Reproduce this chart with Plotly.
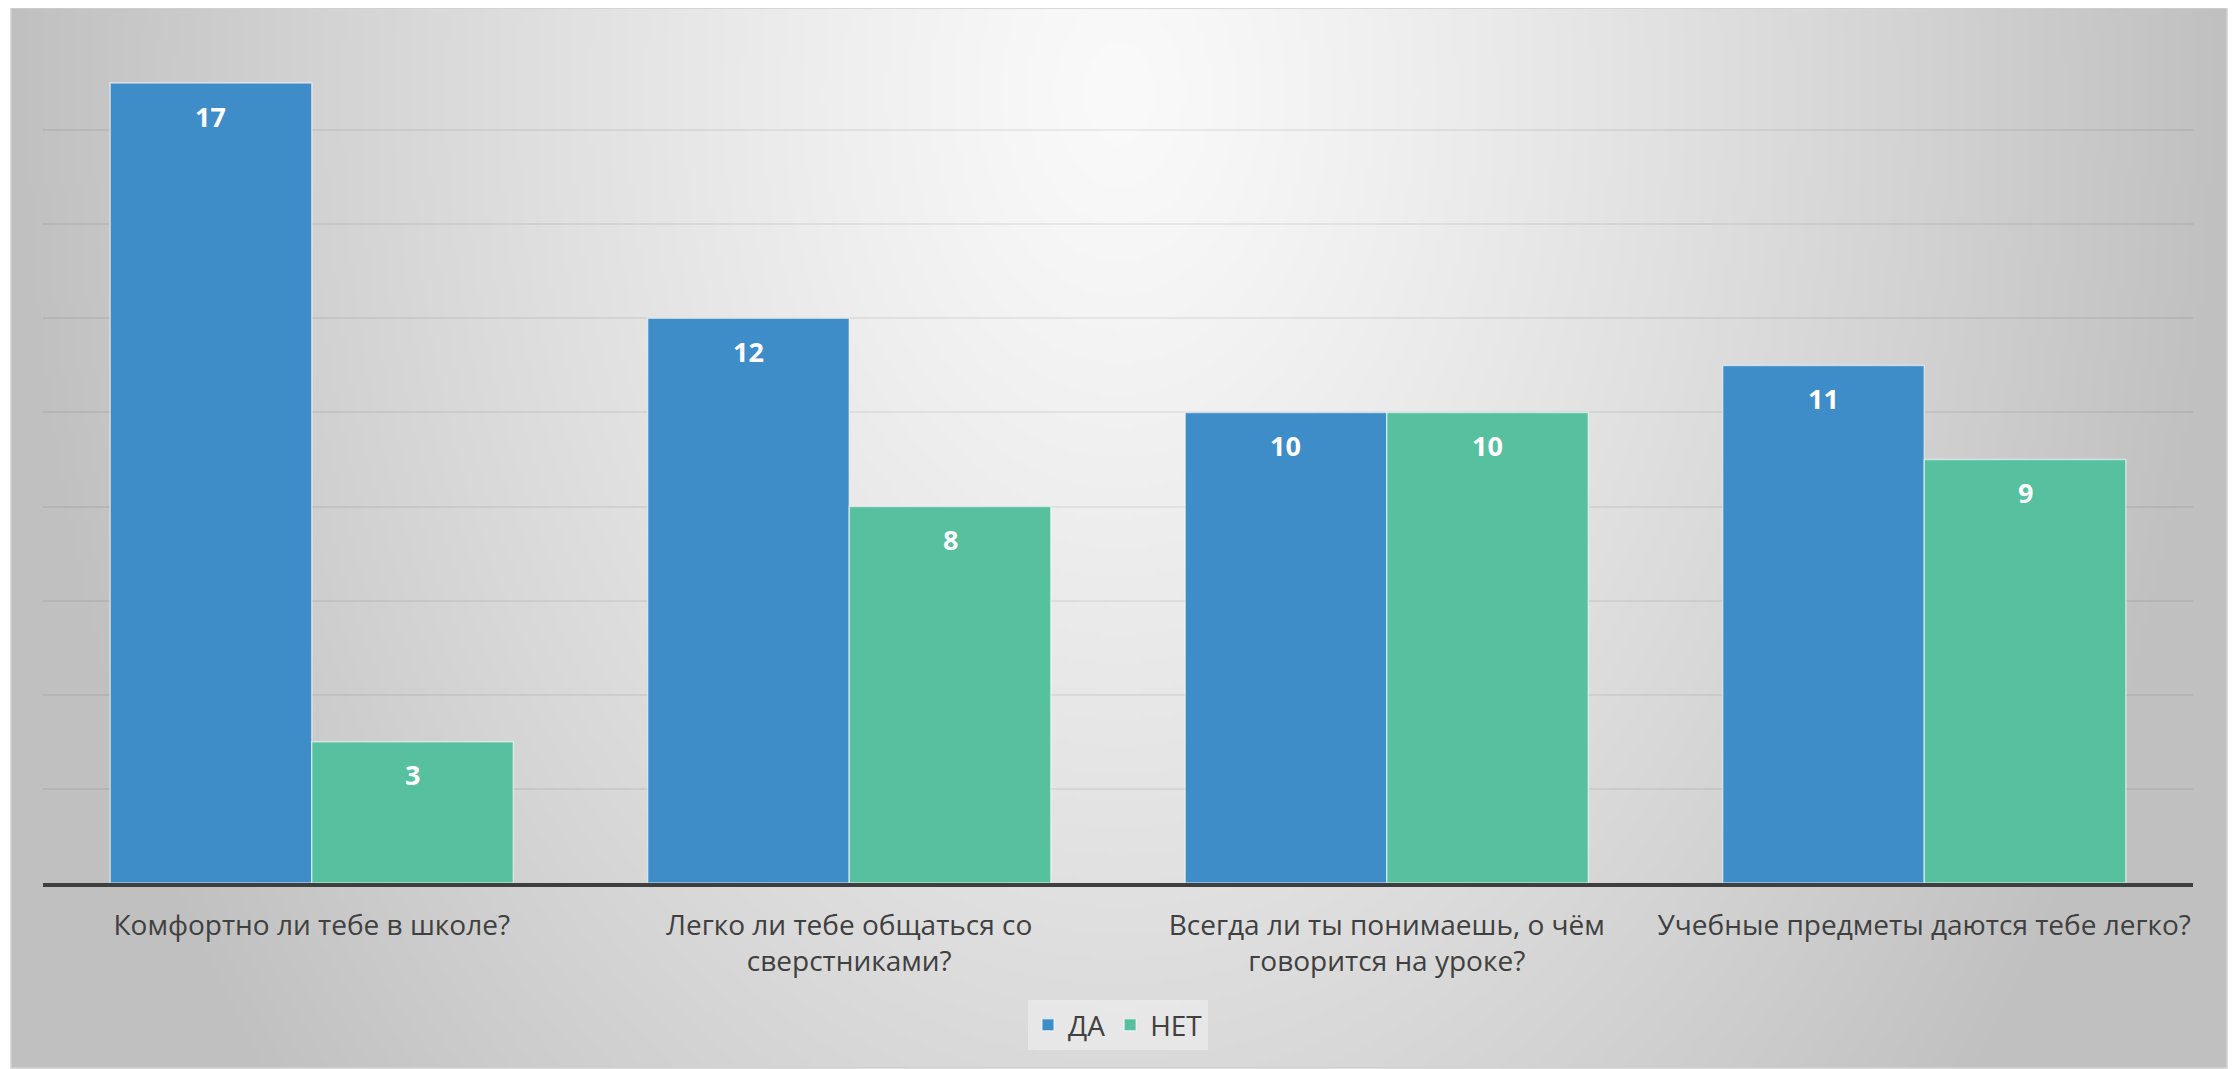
import base64
import struct
import zlib

import numpy as np
import plotly.graph_objects as go

categories = [
    "Комфортно ли тебе в школе?",
    "Легко ли тебе общаться со<br>сверстниками?",
    "Всегда ли ты понимаешь, о чём<br>говорится на уроке?",
    "Учебные предметы даются тебе легко?",
]
yes_values = [17, 12, 10, 11]
no_values = [3, 8, 10, 9]
series_names = ["ДА", "НЕТ"]

OFF = 8  # page body margin
W, H = 2236 - OFF, 1069 - OFF
ML, MR, MT, MB = 43 - OFF, 43 - OFF + OFF, 36 - OFF, 186
BARGAP = 0.25
FONT = "Open Sans"


def gray_png(arr):
    h, w = arr.shape
    raw = b"".join(b"\x00" + arr[i].tobytes() for i in range(h))

    def chunk(tag, data):
        c = struct.pack(">I", len(data)) + tag + data
        return c + struct.pack(">I", zlib.crc32(tag + data) & 0xFFFFFFFF)

    return (b"\x89PNG\r\n\x1a\n"
            + chunk(b"IHDR", struct.pack(">IIBBBBB", w, h, 8, 0, 0, 0, 0))
            + chunk(b"IDAT", zlib.compress(raw, 9))
            + chunk(b"IEND", b""))


# radial grey background of the chart area
gw, gh = 554, 266
fx = (np.arange(gw) + 0.5) / gw
fy = (np.arange(gh) + 0.5) / gh
X, Y = np.meshgrid(fx, fy)
d = np.sqrt(((X - 0.5) / 0.5) ** 2 + ((Y - 0.08) / 1.5) ** 2)
v = 250 - 58 * np.clip(d, 0, 1) ** 1.2
bg_src = "data:image/png;base64," + base64.b64encode(gray_png(v.astype(np.uint8))).decode()

pw = W - ML - MR
ph = H - MT - MB
# chart-area rectangle in figure pixels
rx0, ry0, rx1, ry1 = 11 - OFF, 0, 2227 - OFF, 1068 - OFF
px0 = (rx0 - ML) / pw
px1 = (rx1 - ML) / pw
py_top = (H - MB - ry0) / ph
py_bot = (H - MB - ry1) / ph

blue = "#3E8DC8"
green = "#56C09F"

fig = go.Figure()
fig.add_trace(go.Bar(x=categories, y=yes_values, name=series_names[0],
                     marker=dict(color=blue, line=dict(color="rgba(255,255,255,0.55)", width=1.5))))
fig.add_trace(go.Bar(x=categories, y=no_values, name=series_names[1],
                     marker=dict(color=green, line=dict(color="rgba(255,255,255,0.55)", width=1.5))))

# data labels inside the top of each bar
half = (1 - BARGAP) / 4
annotations = []
for i, (a, b) in enumerate(zip(yes_values, no_values)):
    for off, val in ((-half, a), (half, b)):
        annotations.append(dict(x=i + off, y=val, xref="x", yref="y", text=str(val),
                                showarrow=False, yanchor="middle", yshift=-33,
                                font=dict(family=FONT, size=27, color="white", weight="bold")))

fig.update_layout(
    width=W, height=H,
    margin=dict(l=ML, r=MR, t=MT, b=MB, pad=0),
    paper_bgcolor="white",
    plot_bgcolor="rgba(0,0,0,0)",
    barmode="group",
    bargap=BARGAP,
    bargroupgap=0,
    font=dict(family=FONT, size=28, color="#404040"),
    showlegend=True,
    legend=dict(orientation="h", x=0.5, xanchor="center", y=(H - MB - (1025 - OFF)) / ph, yanchor="middle",
                bgcolor="rgba(255,255,255,0.35)", font=dict(size=28, color="#404040"),
                itemwidth=30, traceorder="normal"),
    annotations=annotations,
    images=[dict(source=bg_src, xref="paper", yref="paper", x=px0, y=py_top,
                 sizex=px1 - px0, sizey=py_top - py_bot, sizing="stretch",
                 xanchor="left", yanchor="top", layer="below")],
    shapes=[dict(type="rect", xref="paper", yref="paper", x0=px0, x1=px1, y0=py_bot, y1=py_top,
                 line=dict(color="#d0d0d0", width=1.5), layer="below")],
)
fig.update_xaxes(showline=True, linecolor="#3f3f3f", linewidth=4, ticks="",
                 ticklabelstandoff=14,
                 tickfont=dict(size=28, color="#404040"), showgrid=False)
fig.update_yaxes(range=[0, 18], dtick=2, showticklabels=False, showgrid=True,
                 gridcolor="rgba(0,0,0,0.06)", gridwidth=2, zeroline=False, showline=False)

fig.write_html("out.html")
